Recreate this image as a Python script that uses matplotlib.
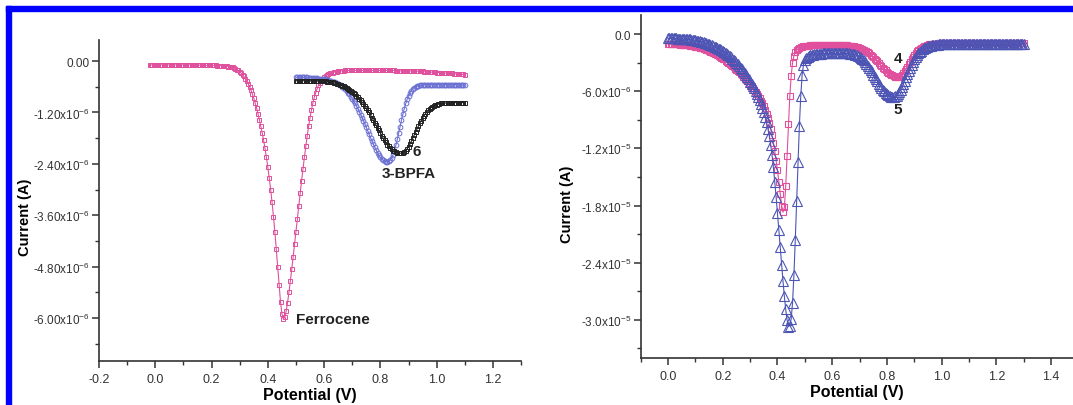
"""
Differential pulse voltammograms: ferrocene / 3-BPFA / compound 6 (left)
and compounds 4 and 5 (right).
"""
import numpy as np
import matplotlib
matplotlib.use("Agg")
import matplotlib.pyplot as plt
from matplotlib.patches import Rectangle
from matplotlib.ticker import FixedLocator, MultipleLocator

plt.rcParams["font.family"] = ["Liberation Sans", "DejaVu Sans"]
plt.rcParams["mathtext.default"] = "regular"

C_PINK = "#e0509c"
C_BLUE_L = "#6b70d2"
C_BLUE_R = "#4d55b4"
C_BLACK = "#222222"

# ---- left panel: currents in microamps, potential step 5 mV ----
ferro_x = np.round(np.arange(-0.020, 1.1001, 0.005), 3)
ferro_y = [
    -0.09, -0.09, -0.09, -0.09, -0.09, -0.09, -0.09, -0.09, -0.09, -0.09,
    -0.09, -0.09, -0.09, -0.09, -0.09, -0.09, -0.09, -0.09, -0.09, -0.09,
    -0.09, -0.09, -0.09, -0.09, -0.09, -0.09, -0.09, -0.09, -0.09, -0.09,
    -0.09, -0.09, -0.09, -0.09, -0.09, -0.09, -0.10, -0.10, -0.10, -0.10,
    -0.10, -0.10, -0.10, -0.10, -0.10, -0.10, -0.10, -0.10, -0.11, -0.11,
    -0.11, -0.11, -0.11, -0.12, -0.12, -0.12, -0.13, -0.13, -0.14, -0.15,
    -0.16, -0.18, -0.20, -0.22, -0.25, -0.28, -0.32, -0.36, -0.41, -0.47,
    -0.53, -0.60, -0.68, -0.77, -0.87, -0.98, -1.10, -1.23, -1.37, -1.52,
    -1.68, -1.85, -2.04, -2.25, -2.48, -2.73, -3.00, -3.30, -3.63, -3.99,
    -4.38, -4.80, -5.22, -5.62, -5.90, -6.02, -5.98, -5.84, -5.64, -5.40,
    -5.14, -4.86, -4.57, -4.28, -3.98, -3.68, -3.38, -3.08, -2.79, -2.51,
    -2.24, -1.98, -1.74, -1.52, -1.32, -1.14, -0.98, -0.85, -0.74, -0.65,
    -0.57, -0.51, -0.46, -0.42, -0.38, -0.35, -0.33, -0.31, -0.29, -0.28,
    -0.27, -0.26, -0.25, -0.25, -0.24, -0.24, -0.23, -0.23, -0.23, -0.22,
    -0.22, -0.22, -0.22, -0.22, -0.22, -0.22, -0.22, -0.22, -0.22, -0.22,
    -0.22, -0.22, -0.22, -0.22, -0.22, -0.22, -0.22, -0.22, -0.22, -0.22,
    -0.22, -0.22, -0.22, -0.22, -0.22, -0.22, -0.22, -0.22, -0.22, -0.22,
    -0.22, -0.22, -0.22, -0.22, -0.22, -0.23, -0.23, -0.23, -0.23, -0.23,
    -0.23, -0.23, -0.23, -0.23, -0.23, -0.23, -0.23, -0.23, -0.23, -0.23,
    -0.24, -0.24, -0.24, -0.24, -0.24, -0.25, -0.25, -0.25, -0.25, -0.25,
    -0.26, -0.26, -0.26, -0.26, -0.27, -0.27, -0.27, -0.27, -0.28, -0.28,
    -0.28, -0.28, -0.29, -0.29, -0.29, -0.29, -0.30, -0.30, -0.30, -0.30,
    -0.31, -0.31, -0.31, -0.31, -0.32,
]

pair_x = np.round(np.arange(0.500, 1.1001, 0.005), 3)
bpfa_y = [
    -0.38, -0.38, -0.38, -0.38, -0.38, -0.38, -0.38, -0.38, -0.38, -0.39,
    -0.39, -0.39, -0.39, -0.40, -0.40, -0.40, -0.41, -0.41, -0.42, -0.42,
    -0.43, -0.43, -0.44, -0.45, -0.46, -0.47, -0.48, -0.49, -0.50, -0.52,
    -0.53, -0.55, -0.57, -0.60, -0.63, -0.66, -0.70, -0.74, -0.78, -0.83,
    -0.88, -0.93, -0.99, -1.05, -1.11, -1.18, -1.25, -1.32, -1.40, -1.47,
    -1.55, -1.63, -1.71, -1.79, -1.86, -1.94, -2.01, -2.08, -2.14, -2.20,
    -2.25, -2.29, -2.32, -2.34, -2.35, -2.35, -2.34, -2.31, -2.26, -2.19,
    -2.09, -1.97, -1.83, -1.68, -1.53, -1.38, -1.24, -1.11, -0.99, -0.89,
    -0.81, -0.74, -0.69, -0.65, -0.62, -0.60, -0.59, -0.58, -0.57, -0.56,
    -0.56, -0.55, -0.55, -0.55, -0.55, -0.55, -0.55, -0.55, -0.55, -0.55,
    -0.55, -0.55, -0.55, -0.55, -0.55, -0.55, -0.55, -0.55, -0.55, -0.55,
    -0.55, -0.55, -0.55, -0.55, -0.55, -0.55, -0.55, -0.56, -0.56, -0.56,
    -0.56,
]
cmpd6_y = [
    -0.46, -0.46, -0.46, -0.46, -0.46, -0.46, -0.46, -0.46, -0.46, -0.46,
    -0.46, -0.46, -0.46, -0.46, -0.46, -0.46, -0.46, -0.46, -0.47, -0.47,
    -0.47, -0.47, -0.48, -0.48, -0.49, -0.49, -0.50, -0.51, -0.52, -0.53,
    -0.54, -0.55, -0.56, -0.58, -0.59, -0.61, -0.63, -0.65, -0.67, -0.70,
    -0.72, -0.75, -0.78, -0.81, -0.84, -0.88, -0.92, -0.96, -1.00, -1.05,
    -1.10, -1.15, -1.20, -1.26, -1.32, -1.38, -1.44, -1.50, -1.56, -1.62,
    -1.68, -1.74, -1.80, -1.85, -1.90, -1.95, -1.99, -2.03, -2.06, -2.09,
    -2.11, -2.13, -2.14, -2.15, -2.15, -2.15, -2.14, -2.12, -2.09, -2.05,
    -2.00, -1.94, -1.87, -1.80, -1.73, -1.66, -1.59, -1.52, -1.45, -1.39,
    -1.33, -1.28, -1.23, -1.19, -1.15, -1.12, -1.09, -1.07, -1.05, -1.03,
    -1.02, -1.01, -1.00, -0.99, -0.99, -0.98, -0.98, -0.98, -0.98, -0.97,
    -0.97, -0.97, -0.97, -0.97, -0.97, -0.97, -0.97, -0.97, -0.97, -0.97,
    -0.97,
]

# ---- right panel: currents in microamps ----
right_x = np.round(np.arange(0.000, 1.3001, 0.005), 3)
cmpd4_y = [
    -1.05, -1.05, -1.05, -1.06, -1.06, -1.07, -1.07, -1.08, -1.09, -1.10,
    -1.11, -1.12, -1.13, -1.15, -1.17, -1.19, -1.21, -1.23, -1.26, -1.29,
    -1.32, -1.35, -1.39, -1.43, -1.47, -1.51, -1.56, -1.61, -1.66, -1.72,
    -1.78, -1.84, -1.91, -1.98, -2.05, -2.13, -2.21, -2.29, -2.38, -2.47,
    -2.57, -2.67, -2.78, -2.89, -3.00, -3.12, -3.25, -3.38, -3.51, -3.63,
    -3.75, -3.89, -4.03, -4.18, -4.33, -4.49, -4.65, -4.81, -4.98, -5.15,
    -5.32, -5.50, -5.68, -5.87, -6.07, -6.28, -6.50, -6.74, -7.00, -7.28,
    -7.60, -7.95, -8.35, -8.80, -9.32, -9.92, -10.6, -11.4, -12.3, -13.3,
    -14.3, -15.5, -16.8, -18.0, -18.7, -18.2, -16.0, -12.8, -9.40, -6.50,
    -4.40, -3.00, -2.30, -1.90, -1.68, -1.54, -1.45, -1.39, -1.34, -1.30,
    -1.27, -1.25, -1.23, -1.21, -1.20, -1.19, -1.18, -1.17, -1.16, -1.16,
    -1.15, -1.15, -1.15, -1.15, -1.15, -1.15, -1.15, -1.15, -1.15, -1.15,
    -1.15, -1.15, -1.15, -1.15, -1.15, -1.16, -1.16, -1.17, -1.17, -1.18,
    -1.19, -1.20, -1.21, -1.23, -1.25, -1.27, -1.30, -1.33, -1.37, -1.41,
    -1.46, -1.52, -1.58, -1.65, -1.73, -1.82, -1.92, -2.03, -2.15, -2.28,
    -2.42, -2.57, -2.72, -2.88, -3.04, -3.20, -3.36, -3.52, -3.67, -3.81,
    -3.94, -4.06, -4.17, -4.27, -4.35, -4.42, -4.47, -4.50, -4.50, -4.47,
    -4.40, -4.28, -4.12, -3.92, -3.69, -3.44, -3.18, -2.92, -2.67, -2.43,
    -2.21, -2.01, -1.83, -1.67, -1.54, -1.43, -1.34, -1.27, -1.21, -1.16,
    -1.12, -1.09, -1.06, -1.04, -1.02, -1.01, -1.00, -0.99, -0.98, -0.98,
    -0.97, -0.97, -0.97, -0.97, -0.97, -0.97, -0.97, -0.97, -0.97, -0.97,
    -0.97, -0.97, -0.97, -0.97, -0.97, -0.97, -0.97, -0.97, -0.97, -0.97,
    -0.97, -0.97, -0.97, -0.97, -0.97, -0.97, -0.97, -0.97, -0.97, -0.97,
    -0.97, -0.97, -0.97, -0.97, -0.97, -0.97, -0.97, -0.97, -0.97, -0.97,
    -0.97, -0.97, -0.97, -0.97, -0.97, -0.97, -0.97, -0.97, -0.97, -0.97,
    -0.97, -0.97, -0.97, -0.97, -0.97, -0.97, -0.97, -0.97, -0.97, -0.97,
    -0.97,
]
cmpd5_y = [
    -0.45, -0.45, -0.45, -0.45, -0.46, -0.46, -0.46, -0.47, -0.47, -0.48,
    -0.49, -0.50, -0.51, -0.52, -0.54, -0.55, -0.57, -0.59, -0.61, -0.63,
    -0.66, -0.69, -0.72, -0.75, -0.79, -0.83, -0.87, -0.91, -0.96, -1.01,
    -1.06, -1.12, -1.18, -1.24, -1.31, -1.38, -1.46, -1.54, -1.62, -1.71,
    -1.80, -1.90, -2.00, -2.11, -2.22, -2.34, -2.46, -2.59, -2.72, -2.86,
    -3.00, -3.17, -3.34, -3.52, -3.71, -3.91, -4.11, -4.32, -4.54, -4.77,
    -5.00, -5.22, -5.45, -5.70, -5.97, -6.26, -6.57, -6.91, -7.29, -7.71,
    -8.18, -8.70, -9.28, -9.93, -10.7, -11.6, -12.7, -14.0, -15.5, -17.1,
    -18.8, -20.6, -22.4, -24.2, -25.9, -27.5, -28.9, -30.0, -30.7, -30.6,
    -29.9, -28.2, -25.3, -21.6, -17.5, -13.4, -9.60, -6.50, -4.30, -3.20,
    -2.70, -2.48, -2.36, -2.28, -2.22, -2.18, -2.15, -2.12, -2.10, -2.08,
    -2.07, -2.06, -2.05, -2.04, -2.03, -2.03, -2.02, -2.02, -2.02, -2.01,
    -2.01, -2.01, -2.01, -2.01, -2.01, -2.01, -2.01, -2.01, -2.01, -2.02,
    -2.02, -2.03, -2.04, -2.05, -2.07, -2.09, -2.12, -2.16, -2.21, -2.28,
    -2.37, -2.48, -2.61, -2.76, -2.93, -3.12, -3.33, -3.55, -3.78, -4.02,
    -4.26, -4.50, -4.74, -4.98, -5.21, -5.43, -5.64, -5.84, -6.02, -6.18,
    -6.32, -6.43, -6.52, -6.58, -6.61, -6.60, -6.55, -6.45, -6.30, -6.10,
    -5.85, -5.56, -5.24, -4.90, -4.55, -4.20, -3.86, -3.53, -3.22, -2.93,
    -2.67, -2.43, -2.22, -2.03, -1.87, -1.73, -1.61, -1.51, -1.43, -1.36,
    -1.30, -1.25, -1.21, -1.18, -1.15, -1.13, -1.11, -1.10, -1.09, -1.08,
    -1.07, -1.06, -1.06, -1.05, -1.05, -1.05, -1.04, -1.04, -1.04, -1.04,
    -1.04, -1.04, -1.04, -1.04, -1.04, -1.04, -1.04, -1.04, -1.04, -1.04,
    -1.04, -1.04, -1.04, -1.04, -1.04, -1.04, -1.04, -1.04, -1.04, -1.04,
    -1.04, -1.04, -1.04, -1.04, -1.04, -1.04, -1.04, -1.04, -1.04, -1.04,
    -1.04, -1.04, -1.04, -1.05, -1.05, -1.05, -1.05, -1.05, -1.05, -1.05,
    -1.05, -1.05, -1.05, -1.05, -1.05, -1.05, -1.05, -1.05, -1.05, -1.05,
    -1.05,
]

left_yticks = [0.0, -1.2e-6, -2.4e-6, -3.6e-6, -4.8e-6, -6.0e-6]
left_ylabels = ["0.00", "-1.20x10$^{-6}$", "-2.40x10$^{-6}$", "-3.60x10$^{-6}$",
                "-4.80x10$^{-6}$", "-6.00x10$^{-6}$"]
left_xticks = [-0.2, 0.0, 0.2, 0.4, 0.6, 0.8, 1.0, 1.2]
right_yticks = [0.0, -6e-6, -1.2e-5, -1.8e-5, -2.4e-5, -3.0e-5]
right_ylabels = ["0.0", "-6.0x10$^{-6}$", "-1.2x10$^{-5}$", "-1.8x10$^{-5}$",
                 "-2.4x10$^{-5}$", "-3.0x10$^{-5}$"]
right_xticks = [0.0, 0.2, 0.4, 0.6, 0.8, 1.0, 1.2, 1.4]

UA = 1e-6


def style_axes(ax, xticks, yticks, ylabels, yminor, ylab_x):
    for side in ("top", "right"):
        ax.spines[side].set_visible(False)
    for side in ("left", "bottom"):
        ax.spines[side].set_linewidth(1.2)
        ax.spines[side].set_color("#333333")
    ax.xaxis.set_major_locator(FixedLocator(xticks))
    ax.set_xticklabels([f"{v:.1f}" for v in xticks])
    ax.xaxis.set_minor_locator(MultipleLocator(0.1))
    ax.yaxis.set_major_locator(FixedLocator(yticks))
    ax.set_yticklabels(ylabels)
    ax.yaxis.set_minor_locator(MultipleLocator(yminor))
    ax.tick_params(which="major", direction="out", length=5, width=1.1,
                   color="#333333", labelcolor="#333333")
    ax.tick_params(axis="x", which="major", labelsize=9, pad=4)
    ax.tick_params(axis="y", which="major", labelsize=8.5, pad=2)
    ax.tick_params(which="minor", direction="out", length=3, width=1.0,
                   color="#333333")
    ax.set_xlabel("Potential (V)", fontsize=11.5, fontweight="bold", labelpad=1)
    ax.set_ylabel("Current (A)", fontsize=10.5, fontweight="bold")
    ax.yaxis.set_label_coords(ylab_x, 0.45)


fig = plt.figure(figsize=(10.73, 4.06), dpi=100)
ax1 = fig.add_axes([0.0923, 0.1084, 0.3933, 0.7916])
ax2 = fig.add_axes([0.5971, 0.1158, 0.4029, 0.8448])

# left panel
ax1.plot(ferro_x, np.array(ferro_y) * UA, color=C_PINK, lw=0.8, marker="s",
         ms=3.4, mfc="none", mew=0.7)
ax1.plot(pair_x, np.array(bpfa_y) * UA, color=C_BLUE_L, lw=0.8, marker="o",
         ms=3.4, mfc="none", mew=0.7)
ax1.plot(pair_x, np.array(cmpd6_y) * UA, color=C_BLACK, lw=0.8, marker="s",
         ms=3.4, mfc="none", mew=0.7)
ax1.set_xlim(-0.2, 1.3)
ax1.set_ylim(-7.0e-6, 0.5e-6)
style_axes(ax1, left_xticks, left_yticks, left_ylabels, 0.6e-6, -0.16)
ax1.text(0.93, -2.10e-6, "6", fontsize=11, fontweight="bold",
         ha="center", va="center", color="#222222")
ax1.text(0.90, -2.62e-6, "3-BPFA", fontsize=11, fontweight="bold",
         ha="center", va="center", color="#222222")
ax1.text(0.50, -6.02e-6, "Ferrocene", fontsize=11, fontweight="bold",
         ha="left", va="center", color="#222222")

# right panel
ax2.plot(right_x, np.array(cmpd4_y) * UA, color=C_PINK, lw=0.8, marker="s",
         ms=5, mfc="none", mew=0.8)
ax2.plot(right_x, np.array(cmpd5_y) * UA, color=C_BLUE_R, lw=0.8, marker="^",
         ms=6.5, mfc="none", mew=0.8)
ax2.set_xlim(-0.1, 1.48)
ax2.set_ylim(-3.4e-5, 2.0e-6)
style_axes(ax2, right_xticks, right_yticks, right_ylabels, 3e-6, -0.155)
ax2.text(0.84, -2.5e-6, "4", fontsize=11, fontweight="bold",
         ha="center", va="center", color="#222222")
ax2.text(0.84, -7.9e-6, "5", fontsize=11, fontweight="bold",
         ha="center", va="center", color="#222222")

# blue frame along top and left edges
W, H = 1073.0, 406.0
fig.add_artist(Rectangle((6 / W, 1 - 12 / H), 1 - 6 / W, 5 / H,
                         transform=fig.transFigure, color="#0000ff", zorder=10))
fig.add_artist(Rectangle((6 / W, 0), 5 / W, 1 - 7 / H,
                         transform=fig.transFigure, color="#0000ff", zorder=10))

fig.savefig("out.png", dpi=100)
